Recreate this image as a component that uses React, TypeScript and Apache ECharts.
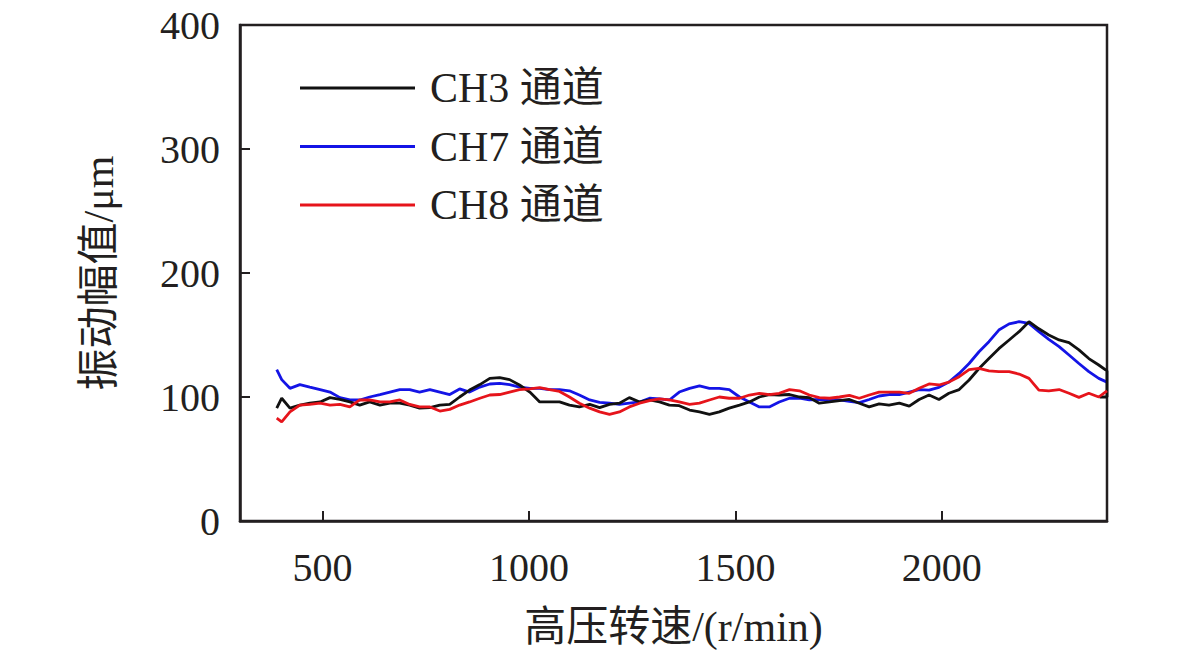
import React, { useEffect, useRef } from "react";
import * as echarts from "echarts";

const speeds = [
  389, 401, 421, 445, 469, 494, 518, 542, 566, 590, 614, 639, 663, 687, 711, 735, 760, 784, 808, 832,
  856, 881, 905, 929, 953, 977, 1002, 1026, 1050, 1074, 1098, 1122, 1147, 1171, 1195, 1219, 1243, 1268,
  1292, 1316, 1340, 1364, 1389, 1413, 1437, 1461, 1485, 1510, 1534, 1558, 1582, 1606, 1631, 1655, 1679,
  1703, 1728, 1752, 1776, 1800, 1824, 1848, 1872, 1897, 1921, 1945, 1969, 1993, 2017, 2042, 2066, 2090,
  2114, 2138, 2163, 2187, 2211, 2235, 2259, 2284, 2308, 2332, 2356, 2380, 2400,
];

const ch3 = [
  91, 99, 91, 93.5, 95, 96, 99.5, 98, 96, 93.5, 96, 93.5, 95, 95, 93.5, 91, 91.5, 93.5, 94, 100,
  105.6, 110, 115, 115.6, 114, 109.7, 104, 96, 96, 96, 93.5, 92, 94, 91.5, 94, 95, 99.5, 96,
  97.6, 96, 93.5, 93, 89.5, 88, 86, 88, 91, 93.5, 96, 100, 102, 101.6, 102, 100, 99.5,
  95, 96, 97, 98, 95, 92, 94.4, 93.5, 95, 92.7, 98, 101.6, 98, 103, 106, 113.7, 123,
  131, 139, 146, 152.7, 160.7, 155, 150, 146, 143.8, 138, 131, 125.8, 121,
];
const ch3TailX = [2400, 2382];
const ch3TailY = [100, 100];

const ch7 = [
  122, 114, 107, 110, 108, 106, 104, 99.5, 97.6, 97.6, 100, 102, 104, 106, 106, 104, 106, 104, 102, 106.5,
  104, 108, 110.5, 111, 110, 108, 107, 107, 106, 106, 105, 101.6, 97.6, 95.7, 95, 94, 95, 96,
  99, 98.5, 97.6, 104, 107, 109, 107, 107, 106, 100, 96, 92, 92, 96, 99, 99, 97.6,
  98, 98, 97.6, 96.5, 95.5, 98, 100.8, 102, 102, 104, 106, 105.5, 107.8, 112, 119, 127, 136.5,
  144.6, 154, 159, 160.7, 159.4, 152.7, 146.5, 140.6, 133.9, 127, 120.4, 115, 112,
];

const ch8 = [
  83, 80, 88, 93.5, 94, 95, 93.5, 94, 92, 97.6, 97.6, 96, 96, 97.6, 94, 92, 92, 88.7, 90, 93.5,
  96, 99, 101.6, 102, 104, 106, 106.5, 107.5, 106, 104.5, 100, 95, 91, 88, 86, 88, 92, 95,
  97, 98.5, 97.6, 96, 94, 95, 97.6, 100, 99, 99, 101.6, 103, 102, 103, 106, 105, 101.6,
  99.5, 99, 100, 101.3, 99, 101.6, 104, 104, 104, 103, 107, 110.5, 109.7, 112, 116.4, 122, 123,
  121, 120.4, 120.4, 118.5, 115, 105.6, 105, 106, 103, 99.7, 103, 100, 105,
];

const seriesNames = ["CH3 通道", "CH7 通道", "CH8 通道"];
const seriesColors = ["#111111", "#1414e6", "#e6141b"];
const xTicks = [500, 1000, 1500, 2000];
const yTicks = [0, 100, 200, 300, 400];

const FONT = "'Liberation Serif', 'Noto Sans CJK SC', serif";

export default function App() {
  const ref = useRef<HTMLDivElement>(null);
  useEffect(() => {
    if (!ref.current) return;
    const chart = echarts.init(ref.current, undefined, { renderer: "svg" });
    const pair = (xs: number[], ys: number[]) => xs.map((x, i) => [x, ys[i]]);
    const black = pair(speeds, ch3).concat(pair(ch3TailX, ch3TailY));
    const datasets = [black, pair(speeds, ch7), pair(speeds, ch8)];
    const axisColor = "#231f20";
    chart.setOption({
      animation: false,
      textStyle: { fontFamily: FONT },
      grid: {
        left: 240,
        right: 74,
        top: 25,
        bottom: 135,
        show: true,
        borderColor: axisColor,
        borderWidth: 2.5,
        backgroundColor: "transparent",
      },
      legend: {
        orient: "vertical",
        left: 300,
        top: 66,
        padding: 0,
        itemWidth: 115,
        itemHeight: 3,
        itemGap: 14.5,
        data: seriesNames.map((n) => ({ name: n, icon: "rect" })),
        textStyle: {
          fontFamily: FONT,
          fontSize: 42,
          lineHeight: 44,
          color: "#231f20",
          padding: [0, 0, 0, 10],
        },
      },
      xAxis: {
        type: "value",
        min: 300,
        max: 2400,
        name: "高压转速/(r/min)",
        nameLocation: "middle",
        nameGap: 85,
        nameTextStyle: { fontFamily: FONT, fontSize: 42, color: "#231f20" },
        axisLine: { show: true, lineStyle: { color: axisColor, width: 2.5 } },
        axisTick: {
          show: true,
          inside: true,
          length: 10,
          customValues: xTicks,
          lineStyle: { color: axisColor, width: 2 },
        },
        axisLabel: {
          customValues: xTicks,
          formatter: (v: number) => String(v),
          margin: 26,
          fontFamily: FONT,
          fontSize: 40,
          color: "#231f20",
        },
        splitLine: { show: false },
      },
      yAxis: {
        type: "value",
        min: 0,
        max: 400,
        interval: 100,
        name: "振动幅值/μm",
        nameLocation: "middle",
        nameGap: 120,
        nameRotate: 90,
        nameTextStyle: { fontFamily: FONT, fontSize: 42, color: "#231f20" },
        axisLine: { show: true, lineStyle: { color: axisColor, width: 2.5 } },
        axisTick: {
          show: true,
          inside: true,
          length: 10,
          customValues: yTicks,
          lineStyle: { color: axisColor, width: 2 },
        },
        axisLabel: {
          formatter: (v: number) => String(v),
          margin: 20,
          fontFamily: FONT,
          fontSize: 40,
          color: "#231f20",
        },
        splitLine: { show: false },
      },
      series: seriesNames.map((name, i) => ({
        name,
        type: "line",
        data: datasets[i],
        symbol: "none",
        showSymbol: false,
        color: seriesColors[i],
        itemStyle: { color: seriesColors[i] },
        lineStyle: { color: seriesColors[i], width: 2.8 },
        z: i === 0 ? 3 : i === 1 ? 2 : 4,
      })),
    });
    return () => chart.dispose();
  }, []);
  return (
    <div
      ref={ref}
      style={{ position: "absolute", left: 0, top: 0, width: 1181, height: 656, background: "#fff" }}
    />
  );
}
